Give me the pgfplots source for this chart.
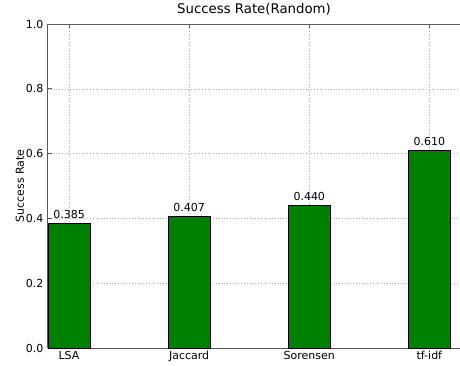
\documentclass[border=0pt]{standalone}
\usepackage{fontspec}
\setmainfont{DejaVu Sans}
\usepackage{pgfplots}
\pgfplotsset{compat=1.18}
\definecolor{barg}{rgb}{0,0.5,0}
\definecolor{spine}{rgb}{0.35,0.35,0.35}
\newcommand{\lblfont}{\fontsize{11}{13}\selectfont}
\newcommand{\ttlfont}{\fontsize{13.3}{16}\selectfont}

\begin{document}
\begin{tikzpicture}
\begin{axis}[
  scale only axis,
  width=412pt, height=324pt,
  xmin=0, xmax=3.43, ymin=0, ymax=1,
  axis x line*=box, axis y line*=left,
  axis line style={spine, line width=1pt},
  xtick={0.175,1.175,2.175,3.175},
  xticklabels={LSA,Jaccard,Sorensen,tf-idf},
  ytick={0,0.2,0.4,0.6,0.8,1.0},
  yticklabel style={/pgf/number format/fixed, /pgf/number format/fixed zerofill, /pgf/number format/precision=1},
  /pgf/number format/assume math mode=true,
  tick align=inside, major tick length=4pt,
  tick style={spine, line width=0.8pt},
  grid=major,
  grid style={dash pattern=on 0.8pt off 2pt, gray!60, line width=0.6pt},
  ticklabel style={font=\lblfont},
  xticklabel style={anchor=base, yshift=-11.5pt},
  yticklabel style={xshift=-1pt},
  title={\ttlfont Success Rate(Random)},
  title style={at={(0.5,1)}, anchor=base, yshift=5pt},
  ylabel={\lblfont Success Rate},
  ylabel style={at={(axis description cs:-0.068,0.5)}, anchor=center},
  nodes near coords,
  nodes near coords style={/pgf/number format/fixed, /pgf/number format/fixed zerofill, /pgf/number format/precision=3},
  every node near coord/.append style={anchor=base, yshift=5pt, font=\lblfont},
]
\addplot[ybar, bar width=0.35, fill=barg, draw=black, line width=0.6pt]
  coordinates {(0.175,0.385) (1.175,0.407) (2.175,0.440) (3.175,0.610)};
\end{axis}
\pgfresetboundingbox
\useasboundingbox ([shift={(-48pt,-17pt)}]current axis.south west) rectangle ([shift={(0pt,24pt)}]current axis.north east);
\end{tikzpicture}
\end{document}
